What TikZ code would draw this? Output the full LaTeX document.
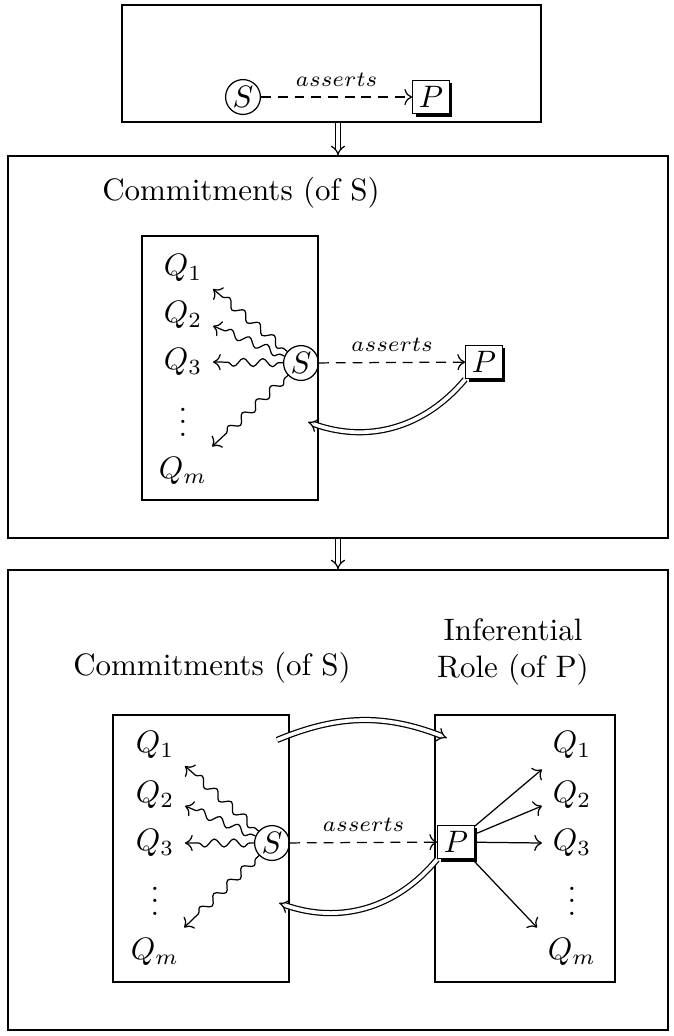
\documentclass[tikz,border=0pt]{standalone}
\usepackage{amsmath,amssymb}
\usepackage{tikz}
\usetikzlibrary{arrows.meta,positioning,calc,fit,shadows,decorations.pathmorphing}
\tikzset{
  framebox/.style={draw,inner sep=0pt},
  commitbox/.style={draw,inner sep=0pt},
  spkrnode/.style={draw,circle,inner sep=0.6pt},
  propnode/.style={draw,fill=white,inner sep=2pt,
    drop shadow={shadow xshift=1pt,shadow yshift=-1pt,opacity=1,fill=black}},
  qlabel/.style={inner sep=3.3pt},
  dotslabel/.style={inner sep=0pt},
  assertarrow/.style={dash pattern=on 3.2pt off 2.2pt,->},
  commitarrow/.style={->,decorate,decoration={snake,amplitude=0.45mm,
    segment length=2.2mm,pre length=0.5mm,post length=1.2mm}},
  inferarrow/.style={->},
  entailarrow/.style={double,double distance=1.2pt,-{Implies}},
  phrase/.style={align=center}
}

\begin{document}
\begin{tikzpicture}[x=0.3226pt,y=-0.3226pt]
  \useasboundingbox (0,0) rectangle (674,1036);
  \node[framebox,fit={(122,5) (541,122)}] (frameA) {};
  \node[framebox,fit={(8,156) (668,538)}] (frameB) {};
  \node[framebox,fit={(8,570) (668,1030)}] (frameC) {};
  \draw[entailarrow] (frameA.south -| frameB.north) -- (frameB.north);
  \draw[entailarrow] (frameB.south) -- (frameC.north);

  \node[spkrnode] (sA) at (243,97) {$S$};
  \node[propnode] (pA) at (431,97) {$P$};
  \draw[assertarrow] (sA) -- node[above,font=\scriptsize] {$asserts$} (pA);

  \node (commitB) at (241,193) {Commitments (of S)};
  \node[commitbox,fit={(142,236) (318,500)}] (boxB) {};
  \node[qlabel] (qB1) at (183,268) {$Q_1$};
  \node[qlabel] (qB2) at (183,315) {$Q_2$};
  \node[qlabel] (qB3) at (183,362) {$Q_3$};
  \node[dotslabel] (qBd) at (183,413) {$\vdots$};
  \node[qlabel] (qBm) at (183,471) {$Q_m$};
  \node[spkrnode] (sB) at (301,363) {$S$};
  \node[propnode] (pB) at (484,362) {$P$};
  \coordinate (backB) at (308,422);
  \draw[assertarrow] (sB) -- node[above,font=\scriptsize] {$asserts$} (pB);
  \draw[commitarrow] (sB) -- (qB1.-35);
  \draw[commitarrow] (sB) -- (qB2.-20);
  \draw[commitarrow] (sB) -- (qB3.east);
  \draw[commitarrow] (sB) -- (qBm.40);
  \draw[entailarrow] (pB.south west) to[bend left=35] (backB);

  \node (commitC) at (212,668) {Commitments (of S)};
  \node[phrase] (roleC) at (513,652) {Inferential\\Role (of P)};
  \node[commitbox,fit={(113,715) (289,982)}] (boxCl) {};
  \node[commitbox,fit={(435,715) (615,982)}] (boxCr) {};
  \node[qlabel] (qC1) at (155,745) {$Q_1$};
  \node[qlabel] (qC2) at (155,795) {$Q_2$};
  \node[qlabel] (qC3) at (155,843) {$Q_3$};
  \node[dotslabel] (qCd) at (155,892) {$\vdots$};
  \node[qlabel] (qCm) at (155,952) {$Q_m$};
  \node[qlabel] (rC1) at (572,745) {$Q_1$};
  \node[qlabel] (rC2) at (572,795) {$Q_2$};
  \node[qlabel] (rC3) at (572,843) {$Q_3$};
  \node[dotslabel] (rCd) at (572,892) {$\vdots$};
  \node[qlabel] (rCm) at (572,952) {$Q_m$};
  \node[spkrnode] (sC) at (272,843) {$S$};
  \node[propnode] (pC) at (456,842) {$P$};
  \coordinate (fromC) at (277,740);
  \coordinate (toC) at (447,738);
  \coordinate (backC) at (279,903);
  \draw[assertarrow] (sC) -- node[above,font=\scriptsize] {$asserts$} (pC);
  \draw[commitarrow] (sC) -- (qC1.-35);
  \draw[commitarrow] (sC) -- (qC2.-20);
  \draw[commitarrow] (sC) -- (qC3.east);
  \draw[commitarrow] (sC) -- (qCm.40);
  \draw[inferarrow] (pC) -- (rC1.south west);
  \draw[inferarrow] (pC) -- (rC2.200);
  \draw[inferarrow] (pC) -- (rC3.west);
  \draw[inferarrow] (pC) -- (rCm.north west);
  \draw[entailarrow] (fromC) to[bend left=22] (toC);
  \draw[entailarrow] (pC.south west) to[bend left=35] (backC);
\end{tikzpicture}
\end{document}
